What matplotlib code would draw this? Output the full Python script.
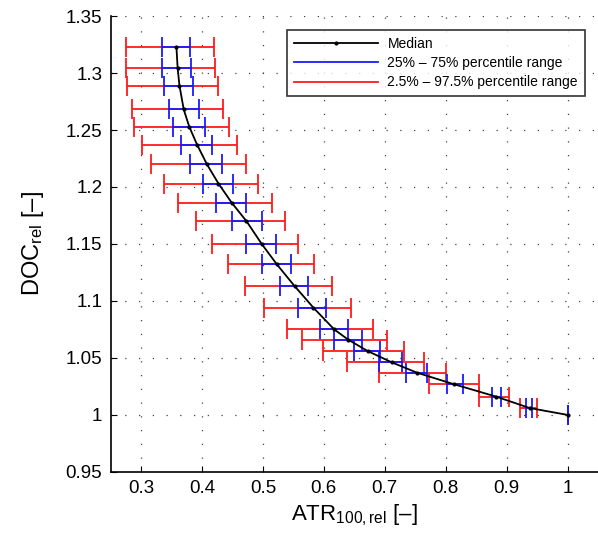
import numpy as np
import matplotlib
matplotlib.use("Agg")
import matplotlib.pyplot as plt
from matplotlib.lines import Line2D

plt.rcParams['font.family'] = ['Liberation Sans', 'DejaVu Sans']
plt.rcParams['mathtext.fontset'] = 'custom'
plt.rcParams['mathtext.rm'] = 'Liberation Sans'
plt.rcParams['mathtext.it'] = 'Liberation Sans:italic'

# DOC_rel levels of the percentile bars
doc_rel = [1.323, 1.304, 1.289, 1.268, 1.253, 1.237, 1.220, 1.203, 1.186, 1.170,
           1.150, 1.132, 1.113, 1.094, 1.075, 1.066, 1.056, 1.046, 1.037, 1.027,
           1.016, 1.006, 1.000]
median = [0.358, 0.360, 0.363, 0.370, 0.379, 0.392, 0.408, 0.427, 0.449, 0.473,
          0.498, 0.523, 0.552, 0.583, 0.617, 0.640, 0.672, 0.712, 0.753, 0.813,
          0.883, 0.938, 1.000]
p25 = [0.334, 0.335, 0.338, 0.346, 0.352, 0.366, 0.380, 0.401, 0.423, 0.449,
       0.473, 0.499, 0.528, 0.558, 0.594, 0.617, 0.650, 0.690, 0.735, 0.802,
       0.876, 0.932, 1.000]
p75 = [0.380, 0.382, 0.386, 0.395, 0.405, 0.417, 0.433, 0.451, 0.473, 0.498,
       0.521, 0.546, 0.574, 0.604, 0.639, 0.662, 0.692, 0.728, 0.769, 0.828,
       0.891, 0.942, 1.000]
p025 = [0.275, 0.275, 0.277, 0.285, 0.288, 0.302, 0.316, 0.337, 0.360, 0.390,
        0.417, 0.442, 0.471, 0.501, 0.539, 0.564, 0.598, 0.638, 0.691, 0.772,
        0.855, 0.922, 1.000]
p975 = [0.419, 0.421, 0.426, 0.435, 0.445, 0.457, 0.473, 0.492, 0.515, 0.537,
        0.558, 0.584, 0.613, 0.645, 0.680, 0.703, 0.732, 0.764, 0.800, 0.855,
        0.904, 0.950, 1.000]

y = np.array(doc_rel)
med = np.array(median)

fig = plt.figure(figsize=(5.98, 5.35), dpi=100)
ax = fig.add_axes([0.185, 0.118, 0.815, 0.852])

# 2.5 - 97.5 percentile range
red_err = [med - np.array(p025), np.array(p975) - med]
ax.errorbar(med, y, xerr=red_err, fmt='none', ecolor='#ff1a1a', elinewidth=1.3,
            capsize=7.5, capthick=1.3, zorder=2)

# 25 - 75 percentile range
blue_err = [med - np.array(p25), np.array(p75) - med]
ax.errorbar(med, y, xerr=blue_err, fmt='none', ecolor='#1a1aff', elinewidth=1.3,
            capsize=7.5, capthick=1.3, zorder=3)

ax.plot(med, y, color='black', linewidth=1.3, marker='.', markersize=4, zorder=4)

ax.set_xlim(0.25, 1.05)
ax.set_ylim(0.95, 1.35)
ax.set_xticks(np.arange(0.3, 1.01, 0.1))
ax.set_xticklabels(['0.3', '0.4', '0.5', '0.6', '0.7', '0.8', '0.9', '1'])
ax.set_yticks(np.arange(0.95, 1.351, 0.05))
ax.set_yticklabels(['0.95', '1', '1.05', '1.1', '1.15', '1.2', '1.25', '1.3', '1.35'])
ax.tick_params(direction='in', labelsize=13.5, length=4, width=0.8, pad=6)
ax.grid(True, linestyle=(0, (1, 10)), color='#444444', linewidth=0.9)
ax.spines['top'].set_visible(False)
ax.spines['right'].set_visible(False)
for s in ['left', 'bottom']:
    ax.spines[s].set_linewidth(1.2)

ax.set_xlabel(r'ATR$_{\mathrm{100,rel}}$ [–]', fontsize=16, labelpad=4)
ax.set_ylabel(r'DOC$_{\mathrm{rel}}$ [–]', fontsize=17, labelpad=14)

handles = [Line2D([], [], color='black', marker='.', markersize=4, linewidth=1.3),
           Line2D([], [], color='#1a1aff', linewidth=1.3),
           Line2D([], [], color='#ff1a1a', linewidth=1.3)]
labels = ['Median', '25% – 75% percentile range', '2.5% – 97.5% percentile range']
leg = ax.legend(handles, labels, loc='upper right', bbox_to_anchor=(0.973, 0.969),
                borderaxespad=0, fontsize=10, frameon=True, fancybox=False,
                edgecolor='black', handlelength=6.0, borderpad=0.5,
                labelspacing=0.37, numpoints=1, handletextpad=0.7)
leg.get_frame().set_linewidth(1.2)

fig.savefig('out.png', dpi=100)
